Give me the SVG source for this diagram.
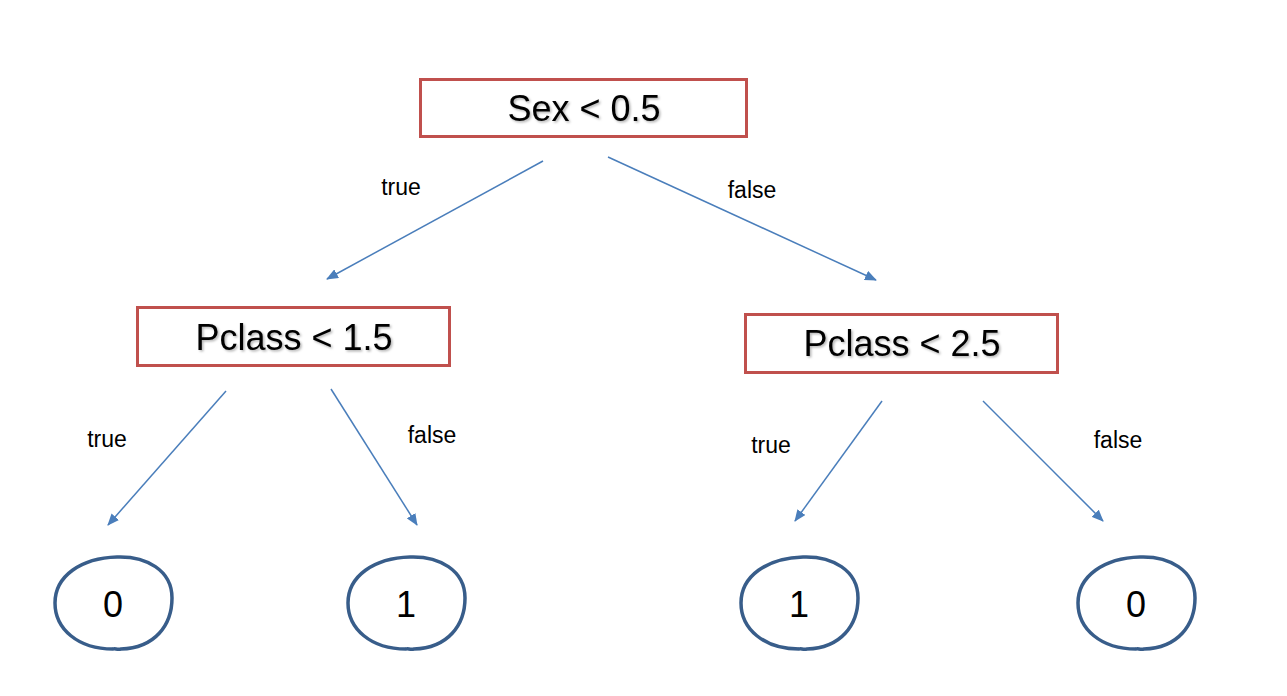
<svg xmlns="http://www.w3.org/2000/svg" xmlns:xlink="http://www.w3.org/1999/xlink" width="1287" height="696" viewBox="0 0 1287 696">
<style>
.box{fill:#fff;stroke:#c0504d;stroke-width:3}
.bt{font-family:"Liberation Sans",Arial,sans-serif;font-size:36px;fill:#000;text-anchor:middle}
.lbl{font-family:"Liberation Sans",Arial,sans-serif;font-size:23px;fill:#000;text-anchor:middle}
.edge{stroke:#4a7ebb;stroke-width:1.5;fill:none;marker-end:url(#ah)}
.leaf{fill:#fff;stroke:#385d8a;stroke-width:3.5}
</style>
<defs>
<marker id="ah" viewBox="0 0 12 10" refX="11" refY="5" markerWidth="12" markerHeight="10" markerUnits="userSpaceOnUse" orient="auto">
<path d="M0,0 L12,5 L0,10 Z" fill="#4a7ebb"/>
</marker>
<filter id="sh" x="-10%" y="-20%" width="120%" height="140%">
<feDropShadow dx="1.5" dy="1.5" stdDeviation="1" flood-color="#000" flood-opacity="0.3"/>
</filter>
<path id="blob" d="M4,-46 C33,-47 59,-33 59,-5 C59,22 42,45 8,46 C4,47 2,45 0,46 C-35,46 -58,26 -58,0 C-58,-27 -32,-45 4,-46 Z"/>
</defs>
<rect width="1287" height="696" fill="#fff"/>
<g id="connectors">
<line class="edge" x1="543" y1="161" x2="327" y2="279"/>
<line class="edge" x1="608" y1="157" x2="876" y2="280"/>
<line class="edge" x1="226" y1="391" x2="108" y2="525"/>
<line class="edge" x1="331" y1="389" x2="417" y2="525"/>
<line class="edge" x1="882" y1="401" x2="795" y2="521"/>
<line class="edge" x1="983" y1="401" x2="1103" y2="521"/>
<text class="lbl" x="401" y="195">true</text>
<text class="lbl" x="752" y="198">false</text>
<text class="lbl" x="107" y="447">true</text>
<text class="lbl" x="432" y="443">false</text>
<text class="lbl" x="771" y="453">true</text>
<text class="lbl" x="1118" y="448">false</text>
</g>
<g id="n_sex">
<rect class="box" x="420.5" y="79.5" width="326" height="57"/>
<text class="bt" x="584" y="121" filter="url(#sh)">Sex &lt; 0.5</text>
</g>
<g id="n_pclass1">
<rect class="box" x="137.5" y="307.5" width="312" height="58"/>
<text class="bt" x="294" y="350" filter="url(#sh)">Pclass &lt; 1.5</text>
</g>
<g id="n_pclass2">
<rect class="box" x="745.5" y="314.5" width="312" height="58"/>
<text class="bt" x="902" y="356" filter="url(#sh)">Pclass &lt; 2.5</text>
</g>
<g id="leaf1">
<use xlink:href="#blob" class="leaf" transform="translate(113,603)"/>
<text class="bt" x="113" y="617">0</text>
</g>
<g id="leaf2">
<use xlink:href="#blob" class="leaf" transform="translate(406,603)"/>
<text class="bt" x="406" y="617">1</text>
</g>
<g id="leaf3">
<use xlink:href="#blob" class="leaf" transform="translate(799,603)"/>
<text class="bt" x="799" y="617">1</text>
</g>
<g id="leaf4">
<use xlink:href="#blob" class="leaf" transform="translate(1136,603)"/>
<text class="bt" x="1136" y="617">0</text>
</g>
</svg>
